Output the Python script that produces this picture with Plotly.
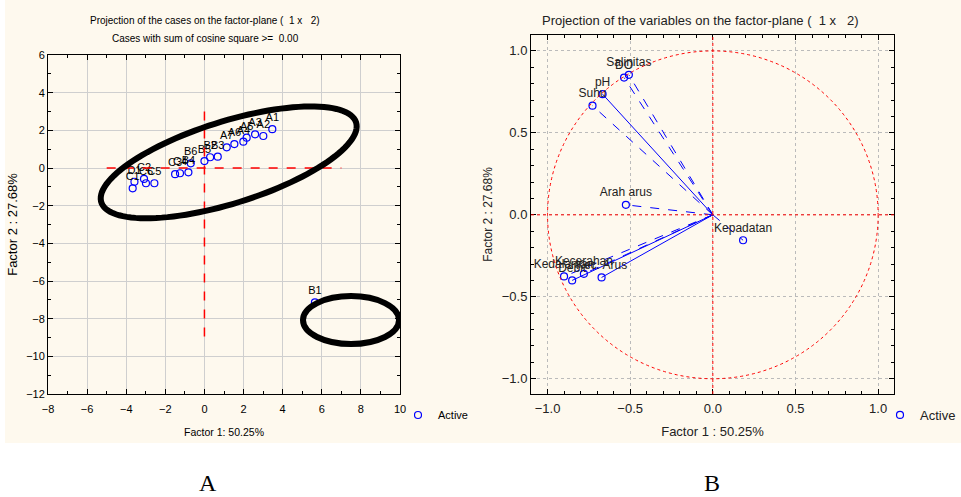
import numpy as np
import plotly.graph_objects as go

# ---------------- data ----------------
case_labels = ["A1", "A2", "A3", "A5", "A4", "A6", "A7", "B3", "B2", "B5", "B6",
               "B4", "C4", "C3", "C5", "C6", "C2", "D1", "C1", "B1"]
case_f1 = [3.47, 3.01, 2.59, 2.16, 1.99, 1.53, 1.14, 0.68, 0.29, 0.00, -0.70,
           -0.82, -1.25, -1.50, -2.56, -2.99, -3.09, -3.58, -3.67, 5.65]
case_f2 = [2.06, 1.70, 1.79, 1.61, 1.40, 1.27, 1.10, 0.60, 0.57, 0.37, 0.25,
           -0.23, -0.28, -0.33, -0.81, -0.81, -0.58, -0.73, -1.08, -7.13]

var_labels = ["Salinitas", "DO", "pH", "Suhu", "Arah arus", "Kepadatan",
              "Kedalaman", "Debit", "Kecerahan", "Kec. Arus"]
var_f1 = [-0.508, -0.537, -0.667, -0.728, -0.526, 0.183, -0.900, -0.851, -0.780, -0.673]
var_f2 = [0.854, 0.837, 0.736, 0.666, 0.061, -0.155, -0.376, -0.400, -0.360, -0.382]
var_dash = ["dash", "dash", "solid", "dash", "dash", "dash", "dash", "solid", "dash", "solid"]

left_xticks = [-8, -6, -4, -2, 0, 2, 4, 6, 8, 10]
left_yticks = [6, 4, 2, 0, -2, -4, -6, -8, -10, -12]
right_ticks = [-1.0, -0.5, 0.0, 0.5, 1.0]

# ---------------- style ----------------
W, H = 961, 497
BEIGE = "#FEF9EE"
BLUE = "#0000FF"
FONT = "Liberation Sans, Arial, sans-serif"
NB = "\u00a0"

def px_x(p):
    return p / W

def px_y(p):
    return 1 - p / H

fig = go.Figure()

# left panel: cases
fig.add_trace(go.Scatter(
    x=case_f1, y=case_f2, text=case_labels, mode="markers+text",
    textposition="top center", textfont=dict(size=11, color="black", family=FONT),
    marker=dict(symbol="circle-open", size=7, color=BLUE, line=dict(width=1.2)),
    name="Active", xaxis="x", yaxis="y", legend="legend", cliponaxis=False,
))

# right panel: variable vectors
for i, lab in enumerate(var_labels):
    fig.add_trace(go.Scatter(
        x=[0, var_f1[i]], y=[0, var_f2[i]], mode="lines",
        line=dict(color=BLUE, width=1, dash=var_dash[i]),
        showlegend=False, hoverinfo="skip", xaxis="x2", yaxis="y2",
    ))
fig.add_trace(go.Scatter(
    x=var_f1, y=var_f2, text=var_labels, mode="markers+text",
    textposition="top center", textfont=dict(size=12, color="#222222", family=FONT),
    marker=dict(symbol="circle-open", size=7, color=BLUE, line=dict(width=1.2)),
    name="Active", xaxis="x2", yaxis="y2", legend="legend2", cliponaxis=False,
))

axis_common = dict(
    showline=True, linecolor="black", linewidth=1, mirror="ticks",
    ticks="inside", ticklen=5, tickcolor="black", zeroline=False, automargin=False,
)
left_tickfont = dict(size=11, color="black", family=FONT)
right_tickfont = dict(size=13, color="#222222", family=FONT)

fig.update_layout(
    width=W, height=H, margin=dict(l=0, r=0, t=0, b=0),
    paper_bgcolor="white", plot_bgcolor="white",
    font=dict(family=FONT, color="black"),
    xaxis=dict(domain=[px_x(48), px_x(400)], range=[-8, 10], anchor="y",
               tickvals=left_xticks, showgrid=True, gridcolor="#CFCFCF", gridwidth=1,
               ticklabelstandoff=5, tickfont=left_tickfont,
               minor=dict(dtick=1, ticks="inside", ticklen=3, tickcolor="black", showgrid=False),
               title=dict(text="Factor 1: 50.25%", font=dict(size=10.5), standoff=14),
               **axis_common),
    yaxis=dict(domain=[px_y(394), px_y(55)], range=[-12, 6], anchor="x",
               tickvals=left_yticks, showgrid=True, gridcolor="#CFCFCF", gridwidth=1,
               tickfont=left_tickfont,
               minor=dict(dtick=1, ticks="inside", ticklen=3, tickcolor="black", showgrid=False),
               title=dict(text="Factor 2 : 27.68%", font=dict(size=13), standoff=5),
               **axis_common),
    xaxis2=dict(domain=[px_x(531), px_x(894)], range=[-1.1, 1.096], anchor="y2",
                tickvals=right_ticks, tickformat=".1f", showgrid=True,
                gridcolor="#BBBBBB", griddash="dot", gridwidth=1, ticklabelstandoff=2,
                tickfont=right_tickfont,
                minor=dict(dtick=0.1, ticks="inside", ticklen=3, tickcolor="black", showgrid=False),
                title=dict(text="Factor 1 : 50.25%", font=dict(size=13, color="#222222"), standoff=12),
                **axis_common),
    yaxis2=dict(domain=[px_y(394), px_y(35)], range=[-1.093, 1.097], anchor="x2",
                tickvals=right_ticks, tickformat=".1f", showgrid=True,
                gridcolor="#BBBBBB", griddash="dot", gridwidth=1,
                tickfont=right_tickfont,
                minor=dict(dtick=0.1, ticks="inside", ticklen=3, tickcolor="black", showgrid=False),
                title=dict(text="Factor 2 : 27.68%", font=dict(size=12, color="#222222"), standoff=6),
                **axis_common),
    legend=dict(x=px_x(398), y=px_y(415), xanchor="left", yanchor="middle",
                bgcolor="rgba(0,0,0,0)", font=dict(size=11), itemwidth=30),
    legend2=dict(x=1, y=px_y(415), xanchor="right", yanchor="middle",
                 bgcolor="rgba(0,0,0,0)", font=dict(size=13, color="#222222"), itemwidth=30),
)

shapes = []
# beige panel background
shapes.append(dict(type="rect", xref="paper", yref="paper", x0=px_x(5), x1=1,
                   y0=px_y(443), y1=1, fillcolor=BEIGE, line=dict(width=0), layer="below"))
# left crosshair
shapes.append(dict(type="line", xref="x", yref="y", x0=-5, x1=7, y0=0, y1=0,
                   line=dict(color="red", width=1.5, dash="dash")))
shapes.append(dict(type="line", xref="x", yref="y", x0=0, x1=0, y0=3, y1=-9,
                   line=dict(color="red", width=1.5, dash="dash")))
# hand-drawn highlight ellipses
px_per_x = 352 / 18
px_per_y = 339 / 18
cx, cy, a_px, b_px, th = 1.24, 0.30, 133.5, 41.0, np.deg2rad(17.4)
t = np.linspace(0, 2 * np.pi, 120)
ex = cx + (a_px * np.cos(t) * np.cos(th) - b_px * np.sin(t) * np.sin(th)) / px_per_x
ey = cy + (a_px * np.cos(t) * np.sin(th) + b_px * np.sin(t) * np.cos(th)) / px_per_y
path = "M " + " L ".join(f"{x:.4f},{y:.4f}" for x, y in zip(ex, ey)) + " Z"
shapes.append(dict(type="path", xref="x", yref="y", path=path,
                   line=dict(color="black", width=6)))
shapes.append(dict(type="circle", xref="x", yref="y", x0=5.04, x1=9.95, y0=-9.35, y1=-6.8,
                   line=dict(color="black", width=6)))
# right panel unit circle and axes
shapes.append(dict(type="circle", xref="x2", yref="y2", x0=-1, x1=1, y0=-1, y1=1,
                   line=dict(color="red", width=1, dash="dot")))
shapes.append(dict(type="line", xref="x2", yref="y2 domain", x0=0, x1=0, y0=0, y1=1,
                   line=dict(color="red", width=1, dash="dot")))
shapes.append(dict(type="line", xref="x2 domain", yref="y2", x0=0, x1=1, y0=0, y1=0,
                   line=dict(color="red", width=1, dash="dot")))
fig.update_layout(shapes=shapes)

annotations = [
    dict(text=f"Projection of the cases on the factor-plane ({NB}{NB}1 x {NB}{NB}2)",
         x=px_x(205), y=px_y(20), font=dict(size=10)),
    dict(text=f"Cases with sum of cosine square >= {NB}0.00",
         x=px_x(205), y=px_y(39), font=dict(size=10)),
    dict(text=f"Projection of the variables on the factor-plane ({NB}{NB}1 x {NB}{NB}2)",
         x=px_x(700), y=px_y(20), font=dict(size=13, color="#222222")),
    dict(text="A", x=px_x(208), y=px_y(483), font=dict(size=24, family="Liberation Serif, Times New Roman, serif")),
    dict(text="B", x=px_x(712), y=px_y(483), font=dict(size=24, family="Liberation Serif, Times New Roman, serif")),
]
for an in annotations:
    an.update(xref="paper", yref="paper", showarrow=False, xanchor="center", yanchor="middle")
fig.update_layout(annotations=annotations)

fig.write_html("out.html")
